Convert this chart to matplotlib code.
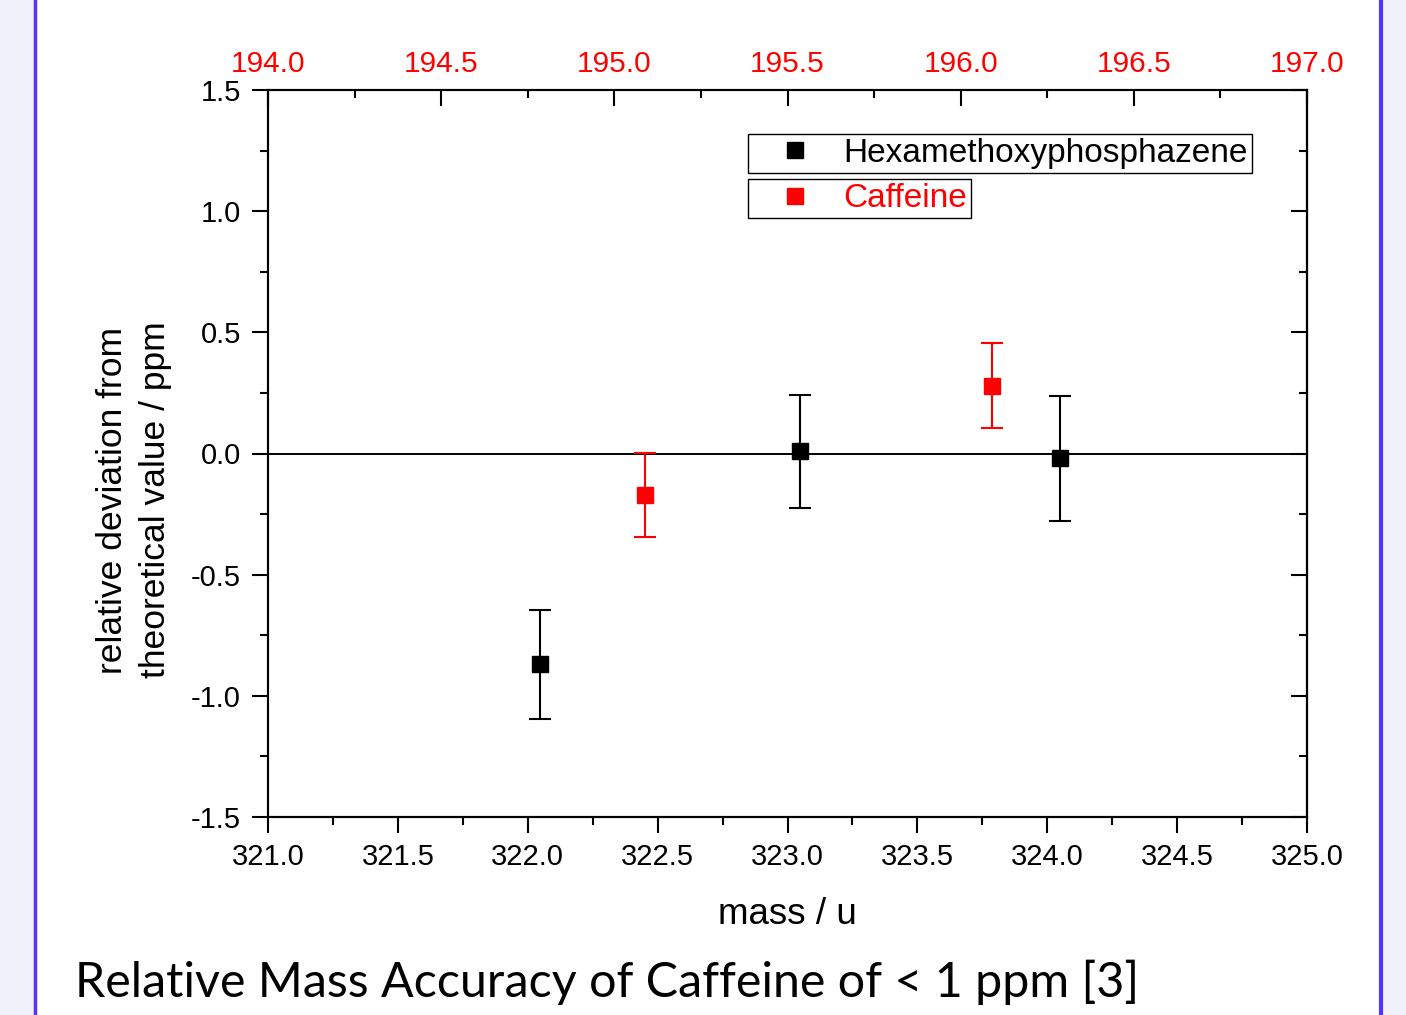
import matplotlib
matplotlib.use("Agg")
import matplotlib.pyplot as plt
from matplotlib.ticker import MultipleLocator, FormatStrFormatter
from matplotlib.patches import Rectangle
from matplotlib.lines import Line2D

# ---- data ----
hexa_mass = [322.048, 323.048, 324.049]
hexa_dev = [-0.87, 0.01, -0.02]
hexa_err = [0.225, 0.233, 0.258]

caff_mass = [195.088, 196.090]
caff_dev = [-0.17, 0.28]
caff_err = [0.173, 0.176]

series_names = ["Hexamethoxyphosphazene", "Caffeine"]
title_text = "Relative Mass Accuracy of Caffeine of < 1 ppm [3]"

plt.rcParams['font.family'] = ['Liberation Sans', 'DejaVu Sans']

W, H = 1406, 1015
fig = plt.figure(figsize=(W / 100, H / 100), dpi=100)
fig.patch.set_facecolor('#F1F1FB')

# white slide area with blue borders
fig.patches.append(Rectangle((35 / W, 0), (1380 - 35) / W, 1, transform=fig.transFigure,
                             facecolor='white', edgecolor='none', zorder=-10))
fig.add_artist(Line2D([34.5 / W, 34.5 / W], [0, 1], transform=fig.transFigure,
                      color='#5533FF', lw=2.5, zorder=-5))
fig.add_artist(Line2D([1381 / W, 1381 / W], [0, 1], transform=fig.transFigure,
                      color='#5533FF', lw=3, zorder=-5))

ax = fig.add_axes([268 / W, 1 - 817 / H, (1307 - 268) / W, (817 - 90) / H])
ax.set_facecolor('none')
ax.set_xlim(321.0, 325.0)
ax.set_ylim(-1.5, 1.5)
ax.xaxis.set_major_locator(MultipleLocator(0.5))
ax.xaxis.set_minor_locator(MultipleLocator(0.25))
ax.yaxis.set_major_locator(MultipleLocator(0.5))
ax.yaxis.set_minor_locator(MultipleLocator(0.25))
ax.xaxis.set_major_formatter(FormatStrFormatter('%.1f'))
ax.yaxis.set_major_formatter(FormatStrFormatter('%.1f'))
ax.tick_params(which='both', direction='out', width=1.5, labelsize=21, top=False, right=False)
ax.tick_params(which='major', length=11.5)
ax.tick_params(which='minor', length=6)
ax.tick_params(axis='y', which='major', pad=8)
ax.tick_params(axis='x', which='major', pad=7)
for s in ax.spines.values():
    s.set_linewidth(1.5)

ax.axhline(0, color='black', lw=1.4, zorder=1)

ax.errorbar(hexa_mass, hexa_dev, yerr=hexa_err, fmt='s', color='black', ms=12,
            elinewidth=1.5, capsize=8, capthick=1.5, zorder=3)

ax.set_xlabel('mass / u', fontsize=26.5, labelpad=19)
ax.set_ylabel('relative deviation from\ntheoretical value / ppm', fontsize=25.5,
              linespacing=1.4)
ax.yaxis.set_label_coords(-0.092, 0.436)

# right axis ticks (inward)
sec = ax.secondary_yaxis('right')
sec.yaxis.set_major_locator(MultipleLocator(0.5))
sec.yaxis.set_minor_locator(MultipleLocator(0.25))
sec.tick_params(which='both', direction='in', width=1.5, labelright=False)
sec.tick_params(which='major', length=11.5)
sec.tick_params(which='minor', length=6)
sec.spines['right'].set_linewidth(1.5)

# top axis (caffeine)
ax2 = ax.twiny()
ax2.set_xlim(194.0, 197.0)
ax2.xaxis.set_major_locator(MultipleLocator(0.5))
ax2.xaxis.set_minor_locator(MultipleLocator(0.25))
ax2.xaxis.set_major_formatter(FormatStrFormatter('%.1f'))
ax2.tick_params(which='both', direction='in', width=1.5, labelsize=21.5, labelcolor='red')
ax2.tick_params(which='major', length=11.5, pad=9)
ax2.tick_params(which='minor', length=6)
for s in ax2.spines.values():
    s.set_linewidth(1.5)

ax2.errorbar(caff_mass, caff_dev, yerr=caff_err, fmt='s', color='red', ms=12,
             elinewidth=1.5, capsize=8, capthick=1.5, zorder=3)

# legends (two separate boxes)
h1 = Line2D([], [], marker='s', color='black', ls='none', ms=12)
h2 = Line2D([], [], marker='s', color='red', ls='none', ms=12)
leg_kw = dict(loc='upper left', borderaxespad=0, fontsize=24, frameon=True, fancybox=False,
              handlelength=2.6, handletextpad=0.15, borderpad=0.12, framealpha=1)
leg1 = ax2.legend([h1], [series_names[0]], bbox_to_anchor=(0.462, 0.940), **leg_kw)
leg1.get_frame().set_edgecolor('black')
leg1.get_frame().set_linewidth(1.0)
ax2.add_artist(leg1)
leg2 = ax2.legend([h2], [series_names[1]], bbox_to_anchor=(0.462, 0.877), **leg_kw)
leg2.get_frame().set_edgecolor('black')
leg2.get_frame().set_linewidth(1.0)
for t in leg2.get_texts():
    t.set_color('red')

fig.text(75 / W, 1 - 997 / H, title_text, fontsize=34.8, family=['Lato', 'DejaVu Sans'],
         va='baseline', ha='left', color='black')

fig.savefig('out.png', dpi=100, facecolor=fig.get_facecolor())
